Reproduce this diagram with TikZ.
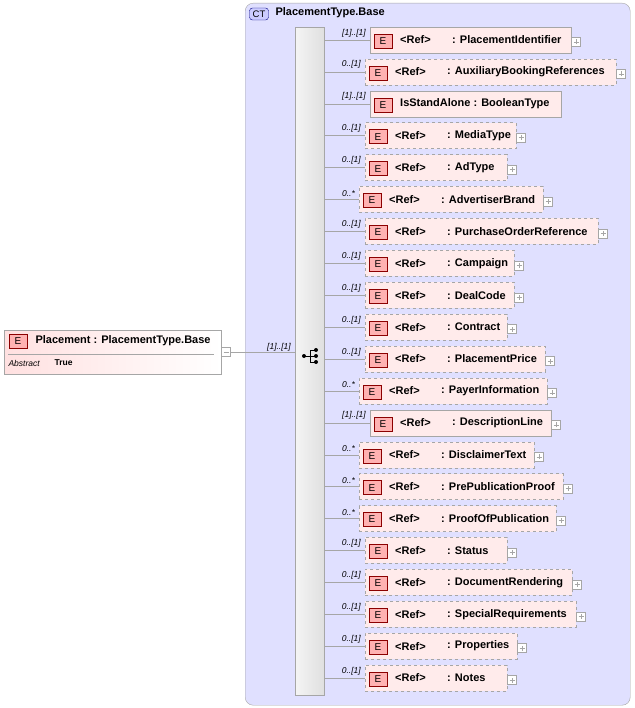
\documentclass[tikz,border=0pt]{standalone}
\usepackage{fontspec}
\setmainfont{Liberation Sans}
\begin{document}
\begin{tikzpicture}[x=1pt,y=-1pt,font=\fontsize{11}{12}\selectfont\bfseries,
  ebox/.style={draw=gray!70,fill=red!8,minimum height=26,anchor=west,inner sep=0},
  optbox/.style={ebox,dashed},
  badge/.style={draw=red!55!black,fill=red!30,minimum width=18,minimum height=14,inner sep=0,font=\fontsize{10}{10}\selectfont\mdseries},
  plusbox/.style={draw=gray!70,fill=white,minimum size=9,inner sep=0},
  mult/.style={font=\fontsize{8.5}{9}\selectfont\itshape\mdseries,anchor=south east,inner sep=1},
  conn/.style={draw=gray!70}]
\useasboundingbox (0,0) rectangle (634,708);
\node[draw=gray!70,fill=blue!12,rounded corners=8,minimum width=385,minimum height=702,anchor=north west,inner sep=0] (ct) at (245,3) {};
\node[draw=blue!50!black,fill=blue!20,rounded corners=3,minimum width=19,minimum height=12,inner sep=0,font=\fontsize{9.5}{10}\selectfont\mdseries] (ctb) at (259,14) {CT};
\node[anchor=west] (ctt) at (272,13) {PlacementType.Base};
\node[draw=gray!70,left color=gray!8,right color=gray!25,minimum width=29,minimum height=668,anchor=north west,inner sep=0] (seq) at (295,27) {};
% sequence icon
\node[inner sep=0,minimum size=10] (ic) at (310,356) {};
\fill (304,356) circle (2);
\draw[line width=1] (305,356) -- (310,356) (310,350) -- (310,362) (310,350) -- (315,350) (310,356) -- (315,356) (310,362) -- (315,362);
\fill (316,350) circle (2) (316,356) circle (2) (316,362) circle (2);
% Placement element
\node[draw=gray!70,left color=red!12,right color=white,minimum width=217,minimum height=44,anchor=north west,inner sep=0] (pl) at (4,330) {};
\node[badge] (plb) at (18,341) {E};
\node[anchor=west] (plt) at (32,341) {Placement : PlacementType.Base};
\draw[gray!70] (8,354) -- (214,354);
\node[anchor=west,font=\fontsize{8.5}{9}\selectfont\itshape\mdseries] (ab) at (5,363) {Abstract};
\node[anchor=west,font=\fontsize{8.5}{9}\selectfont\bfseries] (tr) at (51,363) {True};
\node[plusbox] (plm) at (226,352) {};
\draw[gray!70] (223.5,352) -- (228.5,352);
\draw[conn] (plm) -- (seq.west |- plm);
\node[mult] (m0) at (292,352) {[1]..[1]};
\foreach \i/\l/\r/\st/\m/\a/\b/\p in {
 0/370/571/ebox/[1]..[1]/<Ref>/PlacementIdentifier/1,
 1/365/616/optbox/0..[1]/<Ref>/AuxiliaryBookingReferences/1,
 2/370/561/ebox/[1]..[1]/IsStandAlone/BooleanType/0,
 3/365/516/optbox/0..[1]/<Ref>/MediaType/1,
 4/365/507/optbox/0..[1]/<Ref>/AdType/1,
 5/359/543/optbox/0..*/<Ref>/AdvertiserBrand/1,
 6/365/598/optbox/0..[1]/<Ref>/PurchaseOrderReference/1,
 7/365/514/optbox/0..[1]/<Ref>/Campaign/1,
 8/365/514/optbox/0..[1]/<Ref>/DealCode/1,
 9/365/507/optbox/0..[1]/<Ref>/Contract/1,
 10/365/545/optbox/0..[1]/<Ref>/PlacementPrice/1,
 11/359/547/optbox/0..*/<Ref>/PayerInformation/1,
 12/370/551/ebox/[1]..[1]/<Ref>/DescriptionLine/1,
 13/359/534/optbox/0..*/<Ref>/DisclaimerText/1,
 14/359/563/optbox/0..*/<Ref>/PrePublicationProof/1,
 15/359/556/optbox/0..*/<Ref>/ProofOfPublication/1,
 16/365/507/optbox/0..[1]/<Ref>/Status/1,
 17/365/572/optbox/0..[1]/<Ref>/DocumentRendering/1,
 18/365/576/optbox/0..[1]/<Ref>/SpecialRequirements/1,
 19/365/517/optbox/0..[1]/<Ref>/Properties/1,
 20/365/507/optbox/0..[1]/<Ref>/Notes/1}{
  \pgfmathsetmacro{\y}{40+31.9*\i}
  \pgfmathsetmacro{\w}{\r-\l}
  \node[\st,minimum width=\w] (e\i) at (\l,\y) {};
  \draw[conn] (seq.east |- e\i.west) -- (e\i.west);
  \node[mult] (m\i) at (\l-3,\y-2) {\m};
  \node[badge] (b\i) at (\l+13,\y+1) {E};
  \ifnum\p=1
    \node[anchor=west,inner sep=0] (a\i) at (\l+30,\y) {\a};
    \node[anchor=west,inner sep=0] (n\i) at (\l+82,\y) {: \b};
    \node[plusbox] (p\i) at (\r+5,\y+2) {};
    \draw[gray!70] ([xshift=-2.5]p\i.center) -- ([xshift=2.5]p\i.center) ([yshift=-2.5]p\i.center) -- ([yshift=2.5]p\i.center);
  \else
    \node[anchor=west,inner sep=0] (a\i) at (\l+30,\y) {\a\ : \b};
  \fi
}
\end{tikzpicture}
\end{document}
